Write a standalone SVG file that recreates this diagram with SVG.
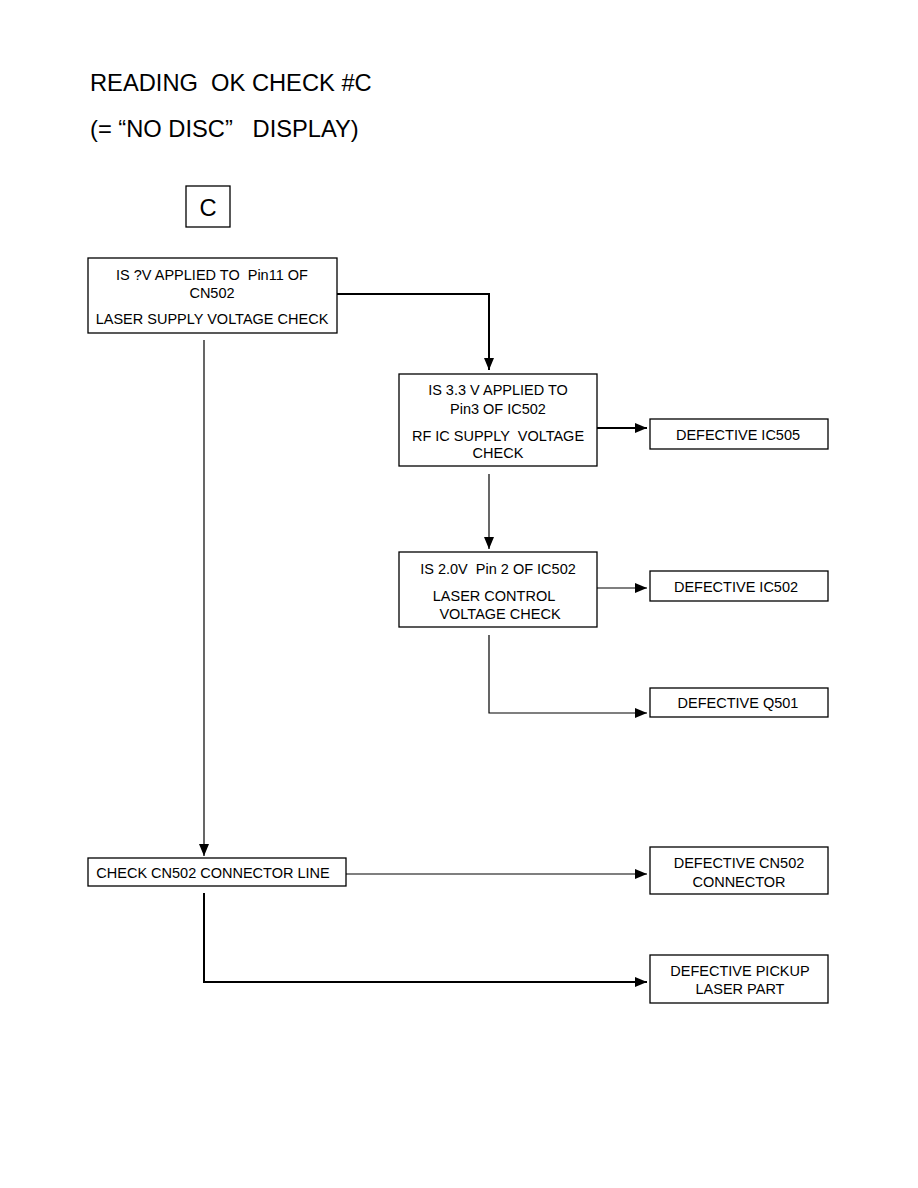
<svg xmlns="http://www.w3.org/2000/svg" width="918" height="1188" viewBox="0 0 918 1188">
<defs>
<marker id="ah" markerWidth="12" markerHeight="12" refX="12" refY="6" orient="auto" markerUnits="userSpaceOnUse">
<path d="M0,1 L12,6 L0,11 Z" fill="#000"/>
</marker>
<style>
.box{fill:#fff;stroke:#000;stroke-width:1.3}
.t{font-family:"Liberation Sans",Arial,sans-serif;font-size:14.5px;fill:#000;text-anchor:middle}
.ttl{font-family:"Liberation Sans",Arial,sans-serif;font-size:23.7px;fill:#000}
.c{fill:none;stroke:#000;stroke-width:1.2}
.cb{fill:none;stroke:#000;stroke-width:2}
</style>
</defs>
<rect width="918" height="1188" fill="#fff"/>
<text class="ttl" x="90" y="91" xml:space="preserve">READING  OK CHECK #C</text>
<text class="ttl" x="90" y="137" xml:space="preserve">(= “NO DISC”   DISPLAY)</text>
<g id="nodeC"><rect class="box" x="186" y="186" width="44" height="41"/><text class="ttl" x="208" y="216" text-anchor="middle">C</text></g>

<g id="connectors">
<path class="cb" d="M337,294 H489 V370" marker-end="url(#ah)"/>
<path class="cb" d="M597,428 H647" marker-end="url(#ah)"/>
<path class="c" d="M489,474 V549" marker-end="url(#ah)"/>
<path class="c" d="M597,588 H647" marker-end="url(#ah)"/>
<path class="c" d="M489,635 V713 H647" marker-end="url(#ah)"/>
<path class="c" d="M204,340 V856" marker-end="url(#ah)"/>
<path class="c" d="M346,874 H647" marker-end="url(#ah)"/>
<path class="cb" d="M204,893 V982 H647" marker-end="url(#ah)"/>
</g>

<g id="n1"><rect class="box" x="88" y="258" width="249" height="75"/>
<text class="t" x="212" y="280" xml:space="preserve">IS ?V APPLIED TO  Pin11 OF</text>
<text class="t" x="212" y="298">CN502</text>
<text class="t" x="212" y="324">LASER SUPPLY VOLTAGE CHECK</text></g>

<g id="n2"><rect class="box" x="399" y="374" width="198" height="92"/>
<text class="t" x="498" y="395">IS 3.3 V APPLIED TO</text>
<text class="t" x="498" y="414">Pin3 OF IC502</text>
<text class="t" x="498" y="441" xml:space="preserve">RF IC SUPPLY  VOLTAGE</text>
<text class="t" x="498" y="458">CHECK</text></g>

<g id="n3"><rect class="box" x="650" y="419" width="178" height="30"/>
<text class="t" x="738" y="440">DEFECTIVE IC505</text></g>

<g id="n4"><rect class="box" x="399" y="552" width="198" height="75"/>
<text class="t" x="498" y="574" xml:space="preserve">IS 2.0V  Pin 2 OF IC502</text>
<text class="t" x="494" y="601">LASER CONTROL</text>
<text class="t" x="500" y="619">VOLTAGE CHECK</text></g>

<g id="n5"><rect class="box" x="650" y="571" width="178" height="30"/>
<text class="t" x="736" y="592">DEFECTIVE IC502</text></g>

<g id="n6"><rect class="box" x="650" y="688" width="178" height="29"/>
<text class="t" x="738" y="708">DEFECTIVE Q501</text></g>

<g id="n7"><rect class="box" x="88" y="858" width="258" height="28"/>
<text class="t" x="213" y="878">CHECK CN502 CONNECTOR LINE</text></g>

<g id="n8"><rect class="box" x="650" y="847" width="178" height="47"/>
<text class="t" x="739" y="868">DEFECTIVE CN502</text>
<text class="t" x="739" y="887">CONNECTOR</text></g>

<g id="n9"><rect class="box" x="650" y="955" width="178" height="48"/>
<text class="t" x="740" y="976">DEFECTIVE PICKUP</text>
<text class="t" x="740" y="994">LASER PART</text></g>
</svg>
